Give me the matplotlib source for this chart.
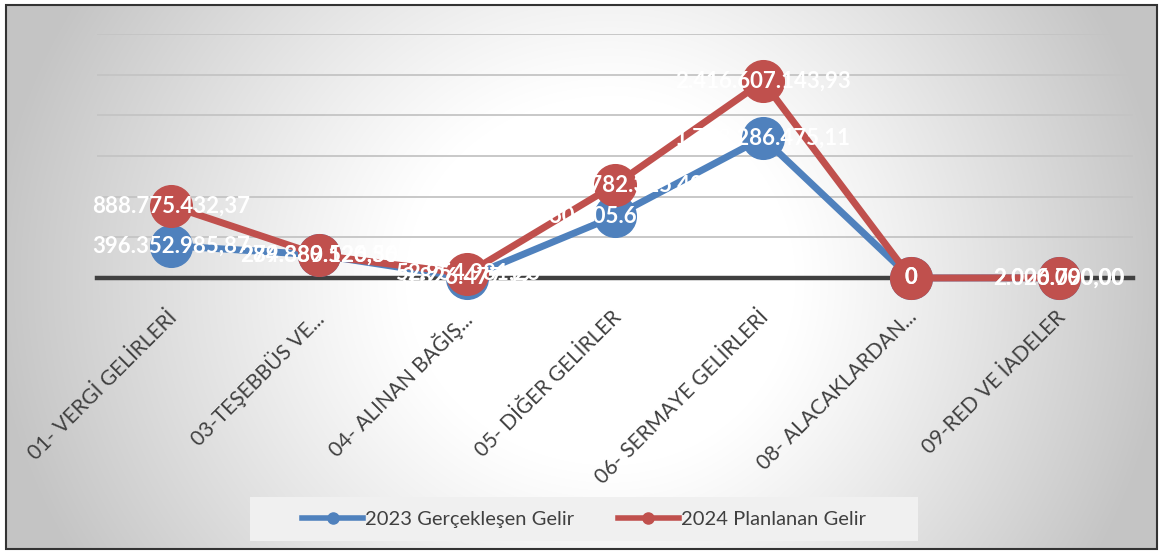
import matplotlib
matplotlib.use("Agg")
import matplotlib.pyplot as plt
import matplotlib.transforms as mtransforms
from matplotlib.lines import Line2D
from matplotlib.patches import Rectangle
import numpy as np

# Veriler (TL)
kategoriler = [
    "01- VERGİ GELİRLERİ",
    "03-TEŞEBBÜS VE...",
    "04- ALINAN BAĞIŞ...",
    "05- DİĞER GELİRLER",
    "06- SERMAYE GELİRLERİ",
    "08- ALACAKLARDAN...",
    "09-RED VE İADELER",
]
gelir_2023 = [396352985.87, 284389126.50, 3826477.12, 760405612.78,
              1723286475.11, 0, 2026790.00]
gelir_2024 = [888775432.37, 279880520.36, 52954981.26, 1145782325.40,
              2416607143.93, 0, 2000000.00]
etiket_2023 = ["396.352.985,87", "284.389.126,50", "3.826.477,12", "760.405.612,78",
               "1.723.286.475,11", "0", "2.026.790,00"]
etiket_2024 = ["888.775.432,37", "279.880.520,36", "52.954.981,26", "1.145.782.325,40",
               "2.416.607.143,93", "0", "2.000.000,00"]
seri_adlari = ["2023 Gerçekleşen Gelir", "2024 Planlanan Gelir"]

MAVI = "#4F81BD"
KIRMIZI = "#C0504D"
W, H = 1161, 554

plt.rcParams["font.family"] = ["Lato", "DejaVu Sans"]

fig = plt.figure(figsize=(W / 100, H / 100), dpi=100)

# Arka plan: ortası beyaz, kenarlara doğru grileşen geçiş
bg = fig.add_axes([0, 0, 1, 1], zorder=0)
yy, xx = np.mgrid[0:H, 0:W]
cx, cy = 610, 280
rx = np.where(xx < cx, 620, 560)
d = np.sqrt(((xx - cx) / rx) ** 2 + ((yy - cy) / 560) ** 2)
frac = np.clip((d - 0.33) / 0.67, 0, 1)
v = 1 - 0.23 * frac ** 1.1
bg.imshow(np.dstack([v, v, v]), extent=(0, W, H, 0), aspect="auto")
bg.set_xlim(0, W)
bg.set_ylim(H, 0)
bg.axis("off")
bg.add_patch(Rectangle((0, 0), W, 5, color="white", lw=0))
bg.add_patch(Rectangle((0, 0), 6, H, color="white", lw=0))
bg.add_patch(Rectangle((0, 549), W, 5, color="white", lw=0))
bg.add_patch(Rectangle((1157, 0), 4, H, color="white", lw=0))
bg.add_patch(Rectangle((6, 5), 1151, 544, fill=False, ec="#333333", lw=1.5))
# lejant kutusu
bg.add_patch(Rectangle((250, 497), 668, 44, color="#f0f0f0", lw=0))

ax = fig.add_axes([97 / W, 1 - 278 / H, (1133 - 97) / W, (278 - 34) / H], zorder=1)
ax.patch.set_alpha(0)
x = np.arange(len(kategoriler))

ax.set_xlim(-0.5, len(kategoriler) - 0.5)
ax.set_ylim(0, 3.0e9)
ax.set_yticks(np.arange(0, 3.01e9, 5e8))
ax.yaxis.grid(True, color="#c4c4c4", lw=1.3)
ax.set_axisbelow(True)
ax.tick_params(axis="y", left=False, labelleft=False)
ax.axhline(0, color="#404040", lw=3.2, zorder=2, clip_on=False)
for s in ax.spines.values():
    s.set_visible(False)

ax.plot(x, gelir_2023, color=MAVI, lw=5, marker="o", ms=30,
        solid_capstyle="round", clip_on=False, zorder=3)
ax.plot(x, gelir_2024, color=KIRMIZI, lw=5, marker="o", ms=30,
        solid_capstyle="round", clip_on=False, zorder=4)

for i in range(len(x)):
    ax.text(x[i], gelir_2023[i], etiket_2023[i], color="white", fontsize=16,
            fontweight="bold", ha="center", va="center", zorder=6, clip_on=False)
    ax.text(x[i], gelir_2024[i], etiket_2024[i], color="white", fontsize=16,
            fontweight="bold", ha="center", va="center", zorder=6, clip_on=False)

ax.set_xticks(x)
ax.set_xticklabels(kategoriler, rotation=45, ha="right", fontsize=15, color="#404040")
ax.tick_params(axis="x", length=0, pad=21)
kaydir = mtransforms.ScaledTranslation(10 / 100, 0, fig.dpi_scale_trans)
for lbl in ax.get_xticklabels():
    lbl.set_transform(lbl.get_transform() + kaydir)

handles = [Line2D([0], [0], color=MAVI, lw=4, marker="o", ms=8),
           Line2D([0], [0], color=KIRMIZI, lw=4, marker="o", ms=8)]
fig.legend(handles, seri_adlari, loc="center", bbox_to_anchor=(584 / W, 1 - 519 / H),
           ncol=2, frameon=False, fontsize=14.5, handlelength=3, handletextpad=0.1,
           columnspacing=2.2, labelcolor="#404040")

fig.savefig("out.png", dpi=100)
